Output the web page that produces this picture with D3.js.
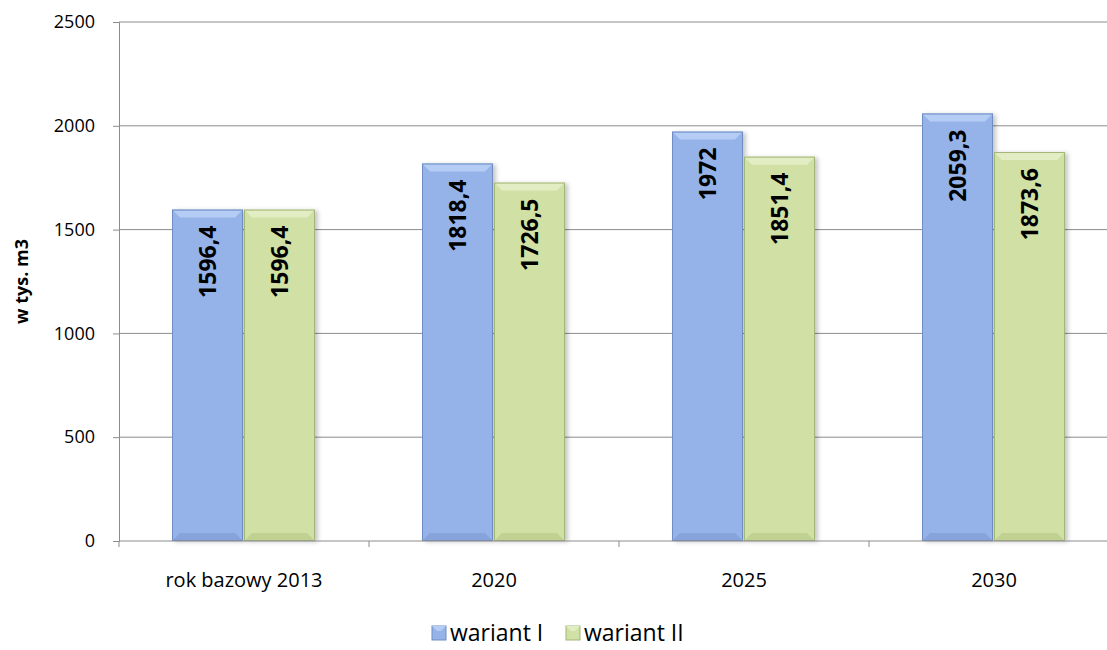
<!DOCTYPE html>
<html>
<head>
<meta charset="utf-8">
<script src="https://cdn.jsdelivr.net/npm/d3@7"></script>
<style>
  body { margin: 0; background: #fff; }
  svg { display: block; }
  svg text { font-family: "Open Sans", sans-serif; }
</style>
</head>
<body>
<svg id="chart"></svg>
<script>
var categories = ["rok bazowy 2013", "2020", "2025", "2030"];
var seriesNames = ["wariant I", "wariant II"];
var wariant1 = [1596.4, 1818.4, 1972, 2059.3];
var wariant2 = [1596.4, 1726.5, 1851.4, 1873.6];
var yTicks = [0, 500, 1000, 1500, 2000, 2500];

var W = 1107, H = 650;
var margin = { top: 22, left: 119, bottom: 109, right: -12 };

var svg = d3.select("#chart").attr("width", W).attr("height", H);

var colors = [
  { base: "#95b3e9", light: "#b5cdf4", dark: "#86a4db", edge: "#6f8dc2" },
  { base: "#d1e0a5", light: "#e3edc3", dark: "#c0d192", edge: "#a3b67a" }
];

var defs = svg.append("defs");
var f = defs.append("filter").attr("id", "shadow")
  .attr("x", "-20%").attr("y", "-5%").attr("width", "140%").attr("height", "110%");
f.append("feDropShadow").attr("dx", 3).attr("dy", 1)
  .attr("stdDeviation", 2).attr("flood-color", "#000").attr("flood-opacity", 0.22);

var x = d3.scaleBand()
  .domain(categories)
  .range([margin.left, W - margin.right]);

var y = d3.scaleLinear()
  .domain([0, 2500])
  .range([H - margin.bottom, margin.top]);

var barW = 71, gap = 2;
var xs = d3.scaleBand().domain(seriesNames).range([0, barW * 2 + gap]);

// grid lines
svg.append("g").selectAll("line")
  .data(yTicks.slice(1))
  .enter().append("line")
  .attr("x1", margin.left).attr("x2", W)
  .attr("y1", function(d) { return y(d); })
  .attr("y2", function(d) { return y(d); })
  .attr("stroke", "#8c8c8c").attr("stroke-width", 1);

// y axis
var yAxis = svg.append("g")
  .attr("transform", "translate(" + margin.left + ",0)")
  .call(d3.axisLeft(y).tickValues(yTicks).tickFormat(d3.format("d")).tickSize(6).tickPadding(18));
yAxis.attr("font-family", null).attr("font-size", 18);
yAxis.select(".domain").attr("stroke", "#8c8c8c");
yAxis.selectAll(".tick line").attr("stroke", "#8c8c8c");
yAxis.selectAll("text").attr("fill", "#000");

// bars
var data = [];
categories.forEach(function(c, i) {
  data.push({ cat: c, s: 0, v: wariant1[i] });
  data.push({ cat: c, s: 1, v: wariant2[i] });
});

var bev = 8;
var bars = svg.append("g").selectAll("g.bar")
  .data(data)
  .enter().append("g")
  .attr("class", "bar")
  .attr("transform", function(d) {
    var x0 = x(d.cat) + (x.bandwidth() - (barW * 2 + gap)) / 2 + xs(seriesNames[d.s]);
    return "translate(" + x0 + ",0)";
  });

bars.append("rect")
  .attr("x", 0).attr("width", barW)
  .attr("y", function(d) { return y(d.v); })
  .attr("height", function(d) { return y(0) - y(d.v); })
  .attr("fill", function(d) { return colors[d.s].base; })
  .attr("filter", "url(#shadow)");

// bevel: top
bars.append("path")
  .attr("d", function(d) {
    var t = y(d.v);
    return "M0," + t + "L" + barW + "," + t + "L" + (barW - bev) + "," + (t + bev) + "L" + bev + "," + (t + bev) + "Z";
  })
  .attr("fill", function(d) { return colors[d.s].light; });
// bevel: bottom
bars.append("path")
  .attr("d", function(d) {
    var b = y(0);
    return "M0," + b + "L" + barW + "," + b + "L" + (barW - bev) + "," + (b - bev) + "L" + bev + "," + (b - bev) + "Z";
  })
  .attr("fill", function(d) { return colors[d.s].dark; });
bars.append("rect")
  .attr("x", 0.5).attr("width", barW - 1)
  .attr("y", function(d) { return y(d.v) + 0.5; })
  .attr("height", function(d) { return y(0) - y(d.v) - 1; })
  .attr("fill", "none")
  .attr("stroke", function(d) { return colors[d.s].edge; });

// value labels
bars.append("text")
  .attr("transform", function(d) {
    return "translate(" + (barW / 2) + "," + (y(d.v) + 16) + ") rotate(-90)";
  })
  .attr("text-anchor", "end")
  .attr("dy", "0.36em")
  .attr("font-size", 23)
  .attr("font-weight", "bold")
  .attr("fill", "#000")
  .text(function(d) { return String(d.v).replace(".", ","); });

// x axis
var xAxis = svg.append("g")
  .attr("transform", "translate(0," + y(0) + ")")
  .call(d3.axisBottom(x).tickSize(0).tickPadding(32));
xAxis.attr("font-family", null).attr("font-size", 20);
xAxis.select(".domain").remove();
xAxis.append("line")
  .attr("x1", margin.left).attr("x2", W)
  .attr("stroke", "#8c8c8c");
xAxis.selectAll("line.sep")
  .data(categories)
  .enter().append("line")
  .attr("class", "sep")
  .attr("x1", function(d) { return x(d); })
  .attr("x2", function(d) { return x(d); })
  .attr("y1", 0).attr("y2", 6)
  .attr("stroke", "#8c8c8c");
xAxis.selectAll(".tick text").attr("fill", "#000");

// y title
svg.append("text")
  .attr("transform", "translate(22," + ((y(0) + y(2500)) / 2) + ") rotate(-90)")
  .attr("text-anchor", "middle")
  .attr("dy", "0.35em")
  .attr("font-size", 18)
  .attr("font-weight", "bold")
  .text("w tys. m3");

// legend
var legend = svg.append("g").attr("transform", "translate(432,626)");
var lx = [0, 134];
seriesNames.forEach(function(s, i) {
  var g = legend.append("g").attr("transform", "translate(" + lx[i] + ",0)");
  g.append("rect").attr("width", 14).attr("height", 14)
    .attr("fill", colors[i].base).attr("stroke", colors[i].edge);
  g.append("path")
    .attr("d", "M0,0L14,0L9,5L5,5Z")
    .attr("fill", colors[i].light);
  g.append("text").attr("x", 18).attr("y", 7).attr("dy", "0.35em")
    .attr("font-size", 23).attr("fill", "#000").text(s);
});
</script>
</body>
</html>
